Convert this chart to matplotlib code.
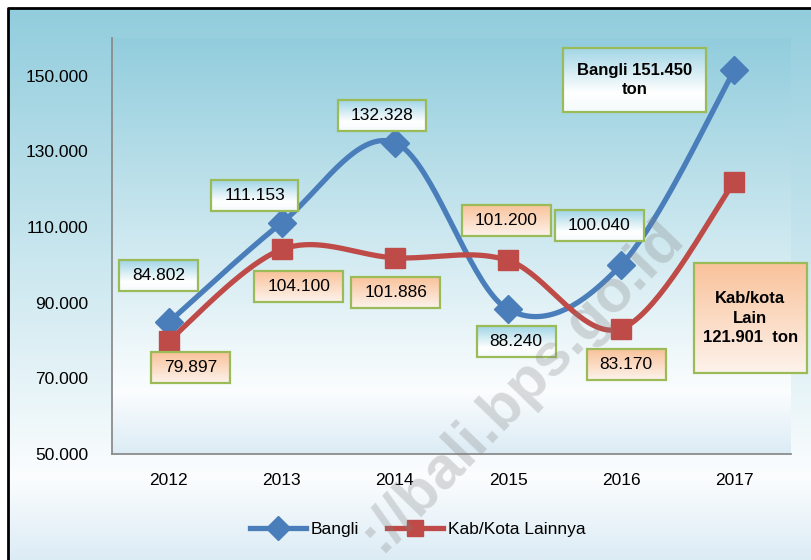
import numpy as np
import matplotlib.pyplot as plt
from matplotlib.colors import LinearSegmentedColormap
from matplotlib.patches import Rectangle
from matplotlib.lines import Line2D

years = ['2012', '2013', '2014', '2015', '2016', '2017']
bangli = [84802, 111153, 132328, 88240, 100040, 151450]
lainnya = [79897, 104100, 101886, 101200, 83170, 121901]
yticks = [50000, 70000, 90000, 110000, 130000, 150000]

# where each value label sits relative to its point (pixels)
bangli_off = [(-10, 47), (-27, 27), (-13, 27), (8, -32), (-22, 39), (-100, -10)]
lainnya_off = [(22, -27), (17, -37), (1, -35), (-2, 40), (5, -36), (16, -136)]

plt.rcParams['font.family'] = ['Liberation Sans', 'DejaVu Sans']

BLUE = '#4a7ebb'
RED = '#be4b48'
GREEN = '#9bbb59'

bg_cmap = LinearSegmentedColormap.from_list('bg', [(0, '#92cddd'), (0.85, '#fbfdfe'), (1, '#dcecf5')])
blue_box = LinearSegmentedColormap.from_list('bb', [(0, '#a0d5e5'), (0.7, '#ffffff'), (1, '#f4fafc')])
orange_box = LinearSegmentedColormap.from_list('ob', [(0, '#f9c29a'), (1, '#fdf3ec')])
grad = np.linspace(0, 1, 256).reshape(-1, 1)


def fmt(v):
    return f'{v:,}'.replace(',', '.')


def smooth(ys, n=40):
    """bezier smoothing, same idea as excel's smoothed line"""
    ys = np.asarray(ys, float)
    xs = np.arange(len(ys), dtype=float)
    pts = np.column_stack([xs, ys])
    pts = np.vstack([pts[:1], pts, pts[-1:]])
    t = np.linspace(0, 1, n)[:, None]
    out = []
    for i in range(len(ys) - 1):
        p0, p3 = pts[i + 1], pts[i + 2]
        p1 = p0 + (p3 - pts[i]) / 6
        p2 = p3 - (pts[i + 3] - p0) / 6
        out.append((1 - t) ** 3 * p0 + 3 * (1 - t) ** 2 * t * p1 + 3 * (1 - t) * t ** 2 * p2 + t ** 3 * p3)
    out = np.vstack(out)
    return out[:, 0], out[:, 1]


fig = plt.figure(figsize=(8.11, 5.6), dpi=100)

bg = fig.add_axes([0, 0, 1, 1], zorder=-1)
bg.set_axis_off()
x0, y1 = 8 / 811, 1 - 8 / 560
bg.imshow(grad, cmap=bg_cmap, aspect='auto', extent=(x0, 1, 0, y1))
bg.plot([x0, x0, 1.01], [-0.01, y1, y1], color='black', lw=2, clip_on=False)
bg.set_xlim(0, 1)
bg.set_ylim(0, 1)

ax = fig.add_axes([112 / 811, 1 - 454 / 560, (791 - 112) / 811, (454 - 38) / 560])
ax.set_facecolor('none')
ax.imshow(grad, cmap=bg_cmap, aspect='auto', extent=(-0.5, 5.5, 50000, 160000), zorder=0)

xs = np.arange(len(years))
sx, sy = smooth(bangli)
ax.plot(sx, sy, color=BLUE, lw=3.8, zorder=3, solid_capstyle='round')
ax.plot(xs, bangli, 'D', ms=14, color=BLUE, zorder=4)
sx, sy = smooth(lainnya)
ax.plot(sx, sy, color=RED, lw=3.8, zorder=3, solid_capstyle='round')
ax.plot(xs, lainnya, 's', ms=14, color=RED, zorder=4)

ax.set_xlim(-0.5, 5.5)
ax.set_ylim(50000, 160000)
ax.set_xticks(xs)
ax.set_xticklabels(years)
ax.set_yticks(yticks)
ax.set_yticklabels([fmt(v) for v in yticks])
ax.tick_params(length=0, labelsize=12.5)
ax.tick_params(axis='y', pad=17)
ax.tick_params(axis='x', pad=14)
for s in ['top', 'right']:
    ax.spines[s].set_visible(False)
for s in ['left', 'bottom']:
    ax.spines[s].set_color('#8c8c8c')
    ax.spines[s].set_linewidth(1.3)

labels = []
for i in range(len(years)):
    if i == len(years) - 1:
        t1 = 'Bangli ' + fmt(bangli[i]) + '\nton'
        t2 = 'Kab/kota\nLain\n' + fmt(lainnya[i]) + '  ton'
        labels.append((i, bangli[i], t1, bangli_off[i], blue_box, True, (14, 15)))
        labels.append((i, lainnya[i], t2, lainnya_off[i], orange_box, True, (9, 28)))
    else:
        labels.append((i, bangli[i], fmt(bangli[i]), bangli_off[i], blue_box, False, (13, 8)))
        labels.append((i, lainnya[i], fmt(lainnya[i]), lainnya_off[i], orange_box, False, (13, 8)))

texts = []
for x, y, txt, off, cmap, bold, pad in labels:
    t = ax.annotate(txt, (x, y), xytext=off, textcoords='offset pixels', ha='center', va='center',
                    fontsize=12 if bold else 12.5, fontweight='bold' if bold else 'normal',
                    linespacing=1.35, zorder=7, annotation_clip=False)
    texts.append((t, cmap, pad))

fig.canvas.draw()
renderer = fig.canvas.get_renderer()
inv = ax.transData.inverted()
for t, cmap, (px, py) in texts:
    bb = t.get_window_extent(renderer)
    (bx0, by0) = inv.transform((bb.x0 - px, bb.y0 - py))
    (bx1, by1) = inv.transform((bb.x1 + px, bb.y1 + py))
    ax.imshow(grad, cmap=cmap, aspect='auto', extent=(bx0, bx1, by0, by1), zorder=5, clip_on=False)
    ax.add_patch(Rectangle((bx0, by0), bx1 - bx0, by1 - by0, fill=False, ec=GREEN, lw=1.6,
                           zorder=6, clip_on=False))
ax.set_xlim(-0.5, 5.5)
ax.set_ylim(50000, 160000)

handles = [Line2D([], [], color=BLUE, lw=3.8, marker='D', ms=12),
           Line2D([], [], color=RED, lw=3.8, marker='s', ms=11)]
fig.legend(handles, ['Bangli', 'Kab/Kota Lainnya'], loc='center', bbox_to_anchor=(418 / 811, 1 - 529 / 560),
           ncol=2, frameon=False, fontsize=12.5, handlelength=3.2, handletextpad=0.3, columnspacing=1.6)

fig.text(522 / 811, 1 - 385 / 560, '://bali.bps.go.id', rotation=46, fontsize=43, fontweight='bold',
         family=['Liberation Sans', 'DejaVu Sans'], color='#7f7f7f', alpha=0.28,
         ha='center', va='center', rotation_mode='anchor', zorder=10)

fig.savefig('out.png', dpi=100)
